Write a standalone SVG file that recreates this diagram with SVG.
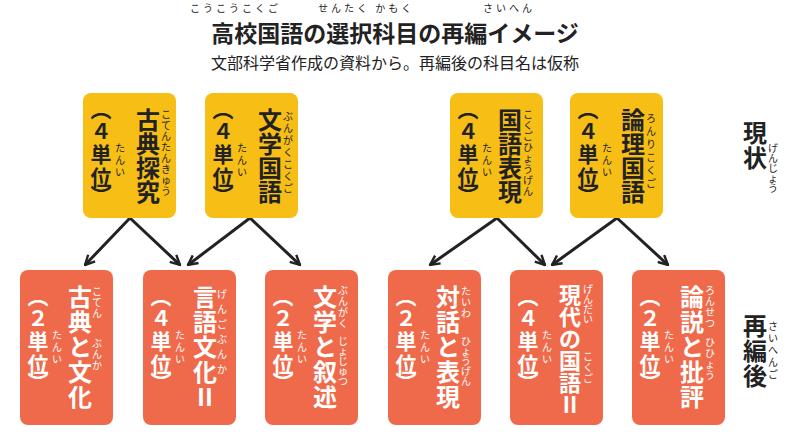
<svg xmlns="http://www.w3.org/2000/svg" width="800" height="432" viewBox="0 0 800 432">
<style>
text{font-family:"Noto Sans CJK JP","Noto Sans",sans-serif;fill:#222;text-anchor:middle}
.m{font-size:24px;font-weight:bold}
.u{font-size:21px;font-weight:bold}
.r{font-size:10px}
.t{font-size:10px;letter-spacing:3px;text-anchor:start}
.w text{fill:#fff}
.y rect{fill:#f7be16}
.o rect{fill:#ef6a4b}
.c line{stroke:#222;stroke-width:3}
</style>
<defs><marker id="a" viewBox="0 0 10 10" refX="9" refY="5" markerWidth="4" markerHeight="4" orient="auto"><path d="M1 1L9 5L1 9" fill="none" stroke="#222" stroke-width="2"/></marker></defs>
<g id="title">
<text x="395" y="42" font-size="23" font-weight="bold">高校国語の選択科目の再編イメージ</text>
<text x="190" y="12" class="t">こうこうこくご</text>
<text x="318" y="12" class="t">せんたく かもく</text>
<text x="483" y="12" class="t">さいへん</text>
<text x="395" y="69" font-size="16">文部科学省作成の資料から。再編後の科目名は仮称</text>
</g>
<g id="lab1"><text class="m" x="755"><tspan x="755" y="142">現</tspan><tspan x="755" dy="25">状</tspan></text>
<text class="r" x="773"><tspan x="773" y="152">げ</tspan><tspan x="773" dy="10">ん</tspan><tspan x="773" dy="10">じ</tspan><tspan x="773" dy="10">ょ</tspan><tspan x="773" dy="10">う</tspan></text></g>
<g id="lab2"><text class="m" x="755"><tspan x="755" y="335">再</tspan><tspan x="755" dy="25">編</tspan><tspan x="755" dy="25">後</tspan></text>
<text class="r" x="773"><tspan x="773" y="330">さ</tspan><tspan x="773" dy="12">い</tspan><tspan x="773" dy="12">へ</tspan><tspan x="773" dy="12">ん</tspan><tspan x="773" dy="12">ご</tspan></text></g>
<g class="c">
<line x1="130" y1="218" x2="85" y2="265" marker-end="url(#a)"/>
<line x1="130" y1="218" x2="180" y2="265" marker-end="url(#a)"/>
<line x1="250" y1="218" x2="188" y2="265" marker-end="url(#a)"/>
<line x1="250" y1="218" x2="300" y2="265" marker-end="url(#a)"/>
<line x1="497" y1="218" x2="430" y2="265" marker-end="url(#a)"/>
<line x1="497" y1="218" x2="545" y2="265" marker-end="url(#a)"/>
<line x1="617" y1="218" x2="552" y2="265" marker-end="url(#a)"/>
<line x1="617" y1="218" x2="668" y2="265" marker-end="url(#a)"/>
</g>
<g id="n1" class="y"><rect x="83" y="93" width="93" height="125" rx="8"/>
<text class="m"><tspan x="148" y="129">古</tspan><tspan x="148" dy="24">典</tspan><tspan x="148" dy="24">探</tspan><tspan x="148" dy="24">究</tspan></text>
<text class="r"><tspan x="166" y="118">こ</tspan><tspan x="166" dy="11">て</tspan><tspan x="166" dy="11">ん</tspan><tspan x="166" dy="11">た</tspan><tspan x="166" dy="11">ん</tspan><tspan x="166" dy="11">き</tspan><tspan x="166" dy="11">ゅ</tspan><tspan x="166" dy="11">う</tspan></text>
<text class="u"><tspan x="101" y="117">︵</tspan><tspan x="101" dy="22">４</tspan><tspan x="101" dy="23">単</tspan><tspan x="101" dy="23">位</tspan><tspan x="101" dy="18">︶</tspan></text>
<text class="r"><tspan x="120" y="152">た</tspan><tspan x="120" dy="12">ん</tspan><tspan x="120" dy="12">い</tspan></text></g>
<g id="n2" class="y"><rect x="205" y="93" width="93" height="125" rx="8"/>
<text class="m"><tspan x="270" y="129">文</tspan><tspan x="270" dy="24">学</tspan><tspan x="270" dy="24">国</tspan><tspan x="270" dy="24">語</tspan></text>
<text class="r"><tspan x="288" y="120">ぶ</tspan><tspan x="288" dy="12">ん</tspan><tspan x="288" dy="12">が</tspan><tspan x="288" dy="12">く</tspan><tspan x="288" dy="12">こ</tspan><tspan x="288" dy="12">く</tspan><tspan x="288" dy="12">ご</tspan></text>
<text class="u"><tspan x="223" y="117">︵</tspan><tspan x="223" dy="22">４</tspan><tspan x="223" dy="23">単</tspan><tspan x="223" dy="23">位</tspan><tspan x="223" dy="18">︶</tspan></text>
<text class="r"><tspan x="242" y="152">た</tspan><tspan x="242" dy="12">ん</tspan><tspan x="242" dy="12">い</tspan></text></g>
<g id="n3" class="y"><rect x="450" y="93" width="93" height="125" rx="8"/>
<text class="m"><tspan x="510" y="129">国</tspan><tspan x="510" dy="24">語</tspan><tspan x="510" dy="24">表</tspan><tspan x="510" dy="24">現</tspan></text>
<text class="r"><tspan x="528" y="118">こ</tspan><tspan x="528" dy="11">く</tspan><tspan x="528" dy="11">ご</tspan><tspan x="528" dy="11">ひ</tspan><tspan x="528" dy="11">ょ</tspan><tspan x="528" dy="11">う</tspan><tspan x="528" dy="11">げ</tspan><tspan x="528" dy="11">ん</tspan></text>
<text class="u"><tspan x="468" y="117">︵</tspan><tspan x="468" dy="22">４</tspan><tspan x="468" dy="23">単</tspan><tspan x="468" dy="23">位</tspan><tspan x="468" dy="18">︶</tspan></text>
<text class="r"><tspan x="487" y="152">た</tspan><tspan x="487" dy="12">ん</tspan><tspan x="487" dy="12">い</tspan></text></g>
<g id="n4" class="y"><rect x="570" y="93" width="93" height="125" rx="8"/>
<text class="m"><tspan x="633" y="129">論</tspan><tspan x="633" dy="24">理</tspan><tspan x="633" dy="24">国</tspan><tspan x="633" dy="24">語</tspan></text>
<text class="r"><tspan x="651" y="122">ろ</tspan><tspan x="651" dy="13">ん</tspan><tspan x="651" dy="13">り</tspan><tspan x="651" dy="13">こ</tspan><tspan x="651" dy="13">く</tspan><tspan x="651" dy="13">ご</tspan></text>
<text class="u"><tspan x="588" y="117">︵</tspan><tspan x="588" dy="22">４</tspan><tspan x="588" dy="23">単</tspan><tspan x="588" dy="23">位</tspan><tspan x="588" dy="18">︶</tspan></text>
<text class="r"><tspan x="607" y="152">た</tspan><tspan x="607" dy="12">ん</tspan><tspan x="607" dy="12">い</tspan></text></g>
<g id="n5" class="o w"><rect x="20" y="270" width="93" height="155" rx="8"/>
<text class="m"><tspan x="80" y="306">古</tspan><tspan x="80" dy="25">典</tspan><tspan x="80" dy="25">と</tspan><tspan x="80" dy="25">文</tspan><tspan x="80" dy="25">化</tspan></text>
<text class="r"><tspan x="97" y="295">こ</tspan><tspan x="97" dy="11">て</tspan><tspan x="97" dy="11">ん</tspan><tspan x="97" y="347">ぶ</tspan><tspan x="97" dy="11">ん</tspan><tspan x="97" dy="11">か</tspan></text>
<text class="u"><tspan x="38" y="304">︵</tspan><tspan x="38" dy="22">２</tspan><tspan x="38" dy="23">単</tspan><tspan x="38" dy="23">位</tspan><tspan x="38" dy="18">︶</tspan></text>
<text class="r"><tspan x="57" y="339">た</tspan><tspan x="57" dy="12">ん</tspan><tspan x="57" dy="12">い</tspan></text></g>
<g id="n6" class="o w"><rect x="143" y="270" width="93" height="155" rx="8"/>
<text class="m"><tspan x="205" y="306">言</tspan><tspan x="205" dy="25">語</tspan><tspan x="205" dy="25">文</tspan><tspan x="205" dy="25">化</tspan><tspan x="205" dy="25">Ⅱ</tspan></text>
<text class="r"><tspan x="222" y="298">げ</tspan><tspan x="222" dy="15">ん</tspan><tspan x="222" dy="15">ご</tspan><tspan x="222" dy="15">ぶ</tspan><tspan x="222" dy="15">ん</tspan><tspan x="222" dy="15">か</tspan></text>
<text class="u"><tspan x="161" y="304">︵</tspan><tspan x="161" dy="22">４</tspan><tspan x="161" dy="23">単</tspan><tspan x="161" dy="23">位</tspan><tspan x="161" dy="18">︶</tspan></text>
<text class="r"><tspan x="180" y="339">た</tspan><tspan x="180" dy="12">ん</tspan><tspan x="180" dy="12">い</tspan></text></g>
<g id="n7" class="o w"><rect x="265" y="270" width="93" height="155" rx="8"/>
<text class="m"><tspan x="325" y="306">文</tspan><tspan x="325" dy="25">学</tspan><tspan x="325" dy="25">と</tspan><tspan x="325" dy="25">叙</tspan><tspan x="325" dy="25">述</tspan></text>
<text class="r"><tspan x="343" y="294">ぶ</tspan><tspan x="343" dy="11">ん</tspan><tspan x="343" dy="11">が</tspan><tspan x="343" dy="11">く</tspan><tspan x="343" y="345">じ</tspan><tspan x="343" dy="10">ょ</tspan><tspan x="343" dy="10">じ</tspan><tspan x="343" dy="10">ゅ</tspan><tspan x="343" dy="10">つ</tspan></text>
<text class="u"><tspan x="283" y="304">︵</tspan><tspan x="283" dy="22">２</tspan><tspan x="283" dy="23">単</tspan><tspan x="283" dy="23">位</tspan><tspan x="283" dy="18">︶</tspan></text>
<text class="r"><tspan x="302" y="339">た</tspan><tspan x="302" dy="12">ん</tspan><tspan x="302" dy="12">い</tspan></text></g>
<g id="n8" class="o w"><rect x="388" y="270" width="93" height="155" rx="8"/>
<text class="m"><tspan x="448" y="306">対</tspan><tspan x="448" dy="25">話</tspan><tspan x="448" dy="25">と</tspan><tspan x="448" dy="25">表</tspan><tspan x="448" dy="25">現</tspan></text>
<text class="r"><tspan x="466" y="295">た</tspan><tspan x="466" dy="11">い</tspan><tspan x="466" dy="11">わ</tspan><tspan x="466" y="345">ひ</tspan><tspan x="466" dy="10">ょ</tspan><tspan x="466" dy="10">う</tspan><tspan x="466" dy="10">げ</tspan><tspan x="466" dy="10">ん</tspan></text>
<text class="u"><tspan x="406" y="304">︵</tspan><tspan x="406" dy="22">２</tspan><tspan x="406" dy="23">単</tspan><tspan x="406" dy="23">位</tspan><tspan x="406" dy="18">︶</tspan></text>
<text class="r"><tspan x="425" y="339">た</tspan><tspan x="425" dy="12">ん</tspan><tspan x="425" dy="12">い</tspan></text></g>
<g id="n9" class="o w"><rect x="510" y="270" width="93" height="155" rx="8"/>
<text class="m" font-size="22"><tspan x="570" y="303" font-size="22">現</tspan><tspan x="570" dy="22" font-size="22">代</tspan><tspan x="570" dy="22" font-size="22">の</tspan><tspan x="570" dy="22" font-size="22">国</tspan><tspan x="570" dy="22" font-size="22">語</tspan><tspan x="570" dy="22" font-size="22">Ⅱ</tspan></text>
<text class="r"><tspan x="588" y="293">げ</tspan><tspan x="588" dy="10">ん</tspan><tspan x="588" dy="10">だ</tspan><tspan x="588" dy="10">い</tspan><tspan x="588" y="360">こ</tspan><tspan x="588" dy="11">く</tspan><tspan x="588" dy="11">ご</tspan></text>
<text class="u"><tspan x="528" y="304">︵</tspan><tspan x="528" dy="22">４</tspan><tspan x="528" dy="23">単</tspan><tspan x="528" dy="23">位</tspan><tspan x="528" dy="18">︶</tspan></text>
<text class="r"><tspan x="547" y="339">た</tspan><tspan x="547" dy="12">ん</tspan><tspan x="547" dy="12">い</tspan></text></g>
<g id="n10" class="o w"><rect x="632" y="270" width="93" height="155" rx="8"/>
<text class="m"><tspan x="692" y="306">論</tspan><tspan x="692" dy="25">説</tspan><tspan x="692" dy="25">と</tspan><tspan x="692" dy="25">批</tspan><tspan x="692" dy="25">評</tspan></text>
<text class="r"><tspan x="710" y="294">ろ</tspan><tspan x="710" dy="11">ん</tspan><tspan x="710" dy="11">せ</tspan><tspan x="710" dy="11">つ</tspan><tspan x="710" y="346">ひ</tspan><tspan x="710" dy="11">ひ</tspan><tspan x="710" dy="11">ょ</tspan><tspan x="710" dy="11">う</tspan></text>
<text class="u"><tspan x="650" y="304">︵</tspan><tspan x="650" dy="22">２</tspan><tspan x="650" dy="23">単</tspan><tspan x="650" dy="23">位</tspan><tspan x="650" dy="18">︶</tspan></text>
<text class="r"><tspan x="669" y="339">た</tspan><tspan x="669" dy="12">ん</tspan><tspan x="669" dy="12">い</tspan></text></g>
</svg>
